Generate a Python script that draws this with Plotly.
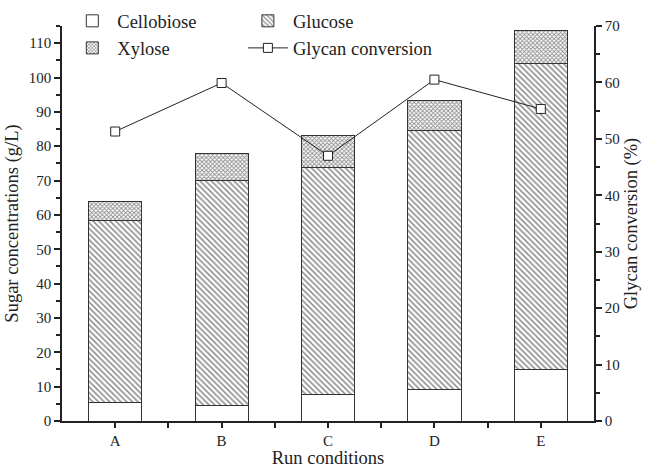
import plotly.graph_objects as go

categories = ["A", "B", "C", "D", "E"]
positions = [1, 2, 3, 4, 5]
cellobiose = [5.3, 4.5, 7.8, 9.2, 15.0]
glucose = [53.0, 65.5, 66.0, 75.3, 89.0]   # segment heights (top - cellobiose)
xylose = [5.5, 8.0, 9.4, 8.7, 9.8]          # segment heights
glycan_conv = [51.3, 59.9, 47.0, 60.5, 55.3]

FONT = "Liberation Serif, Times New Roman, serif"
edge = dict(color="#333333", width=1)

fig = go.Figure()
fig.add_trace(go.Bar(
    x=positions, y=cellobiose, name="Cellobiose", width=0.5,
    marker=dict(color="white", line=edge), legend="legend"))
fig.add_trace(go.Bar(
    x=positions, y=glucose, name="Glucose", width=0.5,
    marker=dict(color="white", line=edge,
                pattern=dict(shape="\\", fgcolor="#1a1a1a", bgcolor="white",
                             size=4, solidity=0.38, fillmode="overlay")),
    legend="legend2"))
fig.add_trace(go.Bar(
    x=positions, y=xylose, name="Xylose", width=0.5,
    marker=dict(color="white", line=edge,
                pattern=dict(shape="x", fgcolor="#1a1a1a", bgcolor="white",
                             size=3, solidity=0.5, fillmode="overlay")),
    legend="legend"))
fig.add_trace(go.Scatter(
    x=positions, y=glycan_conv, name="Glycan conversion", yaxis="y2",
    mode="lines+markers",
    line=dict(color="#222222", width=1),
    marker=dict(symbol="square", size=9, color="white",
                line=dict(color="#222222", width=1)),
    legend="legend2"))

axis_common = dict(showline=True, linecolor="#222222", linewidth=1.5,
                   ticks="outside", tickcolor="#222222", tickwidth=1.5,
                   showgrid=False, zeroline=False, automargin=False,
                   tickfont=dict(family=FONT, size=15, color="#222222"))

TITLE_FONT = dict(family=FONT, size=18.5, color="#222222")

fig.update_layout(
    width=647, height=468,
    margin=dict(l=62, r=53, t=26, b=47, autoexpand=False),
    paper_bgcolor="white", plot_bgcolor="white",
    barmode="stack", bargap=0.5,
    font=dict(family=FONT, size=17, color="#222222"),
    xaxis=dict(**axis_common, range=[0.5, 5.5], tickvals=positions,
               ticktext=categories, ticklen=5,
               minor=dict(tickvals=[1.5, 2.5, 3.5, 4.5], ticklen=5,
                          ticks="outside", tickcolor="#222222", tickwidth=1.5),
               title=dict(text="Run conditions", standoff=5, font=TITLE_FONT)),
    yaxis=dict(**axis_common, range=[0, 115], dtick=10, tick0=0, ticklen=6,
               minor=dict(dtick=5, ticklen=4, ticks="outside",
                          tickcolor="#222222", tickwidth=1.5),
               title=dict(text="Sugar concentrations (g/L)", standoff=5,
                          font=TITLE_FONT)),
    yaxis2=dict(**axis_common, range=[0, 70], dtick=10, tick0=0, ticklen=6,
                overlaying="y", side="right",
                minor=dict(dtick=5, ticklen=4, ticks="outside",
                           tickcolor="#222222", tickwidth=1.5),
                title=dict(text="Glycan conversion (%)", standoff=5,
                           font=TITLE_FONT)),
    legend=dict(x=0.01, y=1.06, xanchor="left", yanchor="top",
                bgcolor="rgba(0,0,0,0)", font=dict(family=FONT, size=18.5),
                traceorder="normal", tracegroupgap=0, itemwidth=40),
    legend2=dict(x=0.34, y=1.06, xanchor="left", yanchor="top",
                 bgcolor="rgba(0,0,0,0)", font=dict(family=FONT, size=18.5),
                 traceorder="normal", tracegroupgap=0, itemwidth=40),
)

fig.write_html("out.html")
